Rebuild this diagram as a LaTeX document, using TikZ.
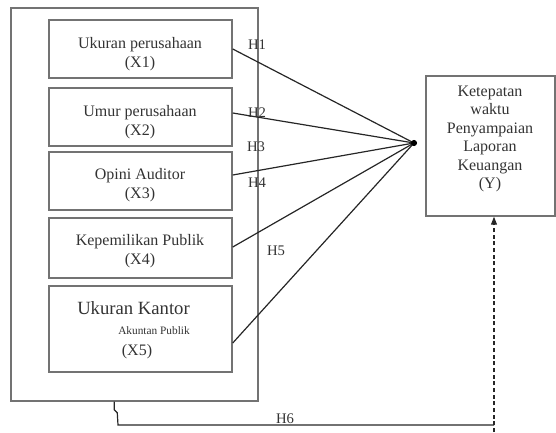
\documentclass[tikz,border=0pt]{standalone}
\usepackage{fontspec}
\setmainfont{Liberation Serif}
\usetikzlibrary{arrows.meta,calc}
\begin{document}
\begin{tikzpicture}[x=0.75pt,y=-0.75pt,
  box/.style={draw=black!55,line width=1.1pt,minimum width=137.25pt,inner sep=0pt},
  txt/.style={align=center,font=\fontsize{12}{13.8}\selectfont,text=black!80,inner sep=0pt},
  link/.style={draw=black!85,line width=0.9pt},
  hyp/.style={font=\fontsize{11}{13}\selectfont,text=black!80,inner sep=1pt},
  dline/.style={draw=black!85,line width=0.9pt,dash pattern=on 3pt off 2pt,-{Triangle[length=6pt,width=4.5pt]}}]
\useasboundingbox (0,0) rectangle (556,432);
\node[box,minimum width=185.25pt,minimum height=294.75pt] (outer) at (134.5,204.5) {};
\node[box,minimum height=43.5pt] (x1) at (140.5,49) {};
\node[box,minimum height=43.5pt] (x2) at (140.5,117) {};
\node[box,minimum height=43.5pt] (x3) at (140.5,181) {};
\node[box,minimum height=45pt] (x4) at (140.5,248) {};
\node[box,minimum height=64.5pt] (x5) at (140.5,329) {};
\node[txt] (t1) at (140,54) {Ukuran perusahaan\\(X1)};
\node[txt] (t2) at (140,122) {Umur perusahaan\\(X2)};
\node[txt] (t3) at (140,185) {Opini Auditor\\(X3)};
\node[txt] (t4) at (140,251) {Kepemilikan Publik\\(X4)};
\node[txt,font=\fontsize{14}{16}\selectfont] (t5a) at (133.5,308) {Ukuran Kantor};
\node[txt,font=\fontsize{8.5}{10}\selectfont] (t5b) at (154,331) {Akuntan Publik};
\node[txt] (t5c) at (137,352) {(X5)};
\node[box,minimum width=96.75pt,minimum height=105pt] (Y) at (490.5,146) {};
\node[txt] (ty) at (490,139) {Ketepatan\\waktu\\Penyampaian\\Laporan\\Keuangan\\(Y)};
\coordinate (hub) at (414,143);
\draw[link] (x1.east) -- (hub);
\draw[link] ($(x2.east)+(0,-4)$) -- (hub);
\draw[link] ($(x3.east)+(0,-6)$) -- (hub);
\draw[link] ($(x4.east)+(0,-1)$) -- (hub);
\draw[link] ($(x5.east)+(0,14)$) -- (hub);
\fill[black] (hub) circle (2.3pt);
\node[hyp] (h1) at (257,45) {H1};
\node[hyp] (h2) at (257,113) {H2};
\node[hyp] (h3) at (256,147) {H3};
\node[hyp] (h4) at (257,183) {H4};
\node[hyp] (h5) at (276,251) {H5};
\node[hyp] (h6) at (285,419) {H6};
\coordinate (hsix) at (118,425);
\coordinate (jn) at (494,425);
\coordinate (dend) at (494,432);
\draw[link] ($(outer.south west)+(104,0)$) -- ++(0,8) -- ++(3,3) -- (hsix) -- (jn);
\draw[dline] (dend) -- (dend |- Y.south);
\end{tikzpicture}
\end{document}
